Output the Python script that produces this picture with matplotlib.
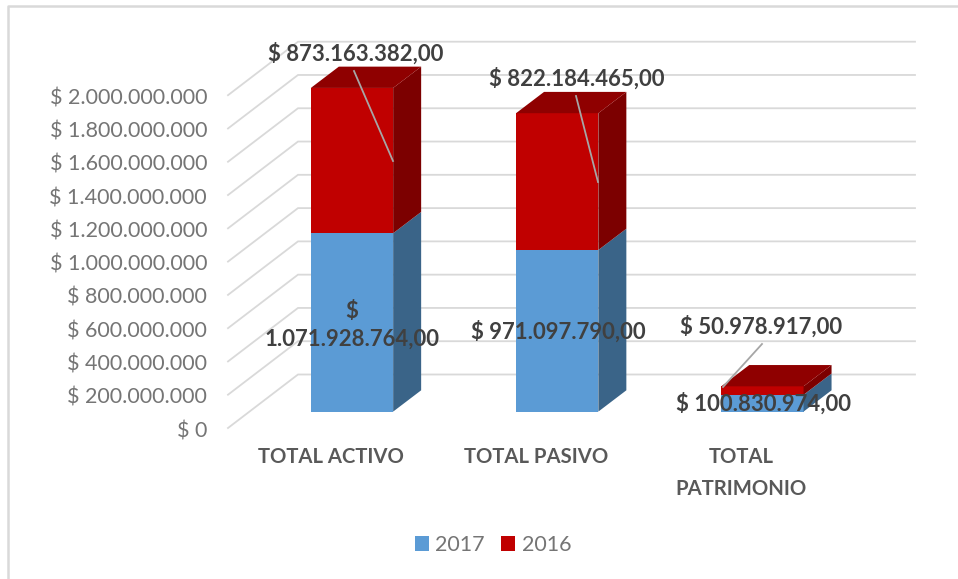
import matplotlib
matplotlib.use('Agg')
import matplotlib.pyplot as plt
from matplotlib.patches import Polygon

plt.rcParams['font.family'] = ['Lato', 'DejaVu Sans']

W, H = 958, 579

categories = ['TOTAL ACTIVO', 'TOTAL PASIVO', 'TOTAL\nPATRIMONIO']
values_2017 = [1071928764, 971097790, 100830974]
values_2016 = [873163382, 822184465, 50978917]
ticks = [0, 200000000, 400000000, 600000000, 800000000, 1000000000,
         1200000000, 1400000000, 1600000000, 1800000000, 2000000000]
label_2017 = ['$\n1.071.928.764,00', '$ 971.097.790,00', '$ 100.830.974,00']
label_2016 = ['$ 873.163.382,00', '$ 822.184.465,00', '$ 50.978.917,00']

# label layout in image pixels
pos_2017 = [(352, 325), (558, 332), (763, 404)]
pos_2016 = [(356, 54), (577, 79), (761, 327)]
leaders = [((354, 71), (393, 161)), ((576, 96), (598, 182)), ((762, 344), (723, 387))]
cat_pos = [(331, 457), (536, 457), (741, 473)]

# scale of the picture
PX_PER_VAL = 166.4 / 1e9
PX_PER_CAT = 205.2
X0, Y0 = 352.0, 411.6
BAR_W = 82.3 / PX_PER_CAT
DEPTH_X = 28.0 / PX_PER_CAT
DEPTH_Y = 21.3 / PX_PER_VAL
GRID_X0 = (228 - X0) / PX_PER_CAT
GRID_X1 = (298 - X0) / PX_PER_CAT
GRID_X2 = (915 - X0) / PX_PER_CAT
GRID_Y0 = (Y0 - 428) / PX_PER_VAL
GRID_Y1 = (Y0 - 374.5) / PX_PER_VAL

BLUE, BLUE_SIDE = '#5B9BD5', '#3A6488'
RED, RED_SIDE, RED_TOP = '#C00000', '#7C0000', '#8F0000'
GRID = '#D9D9D9'


def px(x, y):
    return x / W, 1 - y / H


fig = plt.figure(figsize=(W / 100, H / 100), dpi=100)
ax = fig.add_axes([0, 0, 1, 1])
ax.set_xlim(-X0 / PX_PER_CAT, (W - X0) / PX_PER_CAT)
ax.set_ylim((Y0 - H) / PX_PER_VAL, Y0 / PX_PER_VAL)
ax.axis('off')

# chart border, only left and top are visible in the crop
fig.add_artist(plt.Line2D([8 / W, 8 / W, 1], [0, 1 - 6 / H, 1 - 6 / H],
                          color='#D9D9D9', lw=1.8))

# walls
for i, t in enumerate(ticks):
    ax.plot([GRID_X0, GRID_X1, GRID_X2], [GRID_Y0 + t, GRID_Y1 + t, GRID_Y1 + t],
            color=GRID, lw=1.3, zorder=1, solid_joinstyle='miter')
    y = ax.transData.transform((GRID_X0, GRID_Y0 + t))[1]
    fig.text(207 / W, y / H - 3 / H, '$ ' + f'{t:,}'.replace(',', '.'), ha='right', va='center',
             fontsize=15.5, color='#757575')

xs = list(range(len(categories)))
b1 = ax.bar(xs, values_2017, BAR_W, color=BLUE, label='2017', zorder=3)
b2 = ax.bar(xs, values_2016, BAR_W, bottom=values_2017, color=RED, label='2016', zorder=3)

# side and top faces of the bars
for x, a, b in zip(xs, values_2017, values_2016):
    r = x + BAR_W / 2
    l = x - BAR_W / 2
    ax.add_patch(Polygon([(r, 0), (r + DEPTH_X, DEPTH_Y), (r + DEPTH_X, a + DEPTH_Y), (r, a)],
                         color=BLUE_SIDE, lw=0, zorder=3))
    ax.add_patch(Polygon([(r, a), (r + DEPTH_X, a + DEPTH_Y),
                          (r + DEPTH_X, a + b + DEPTH_Y), (r, a + b)],
                         color=RED_SIDE, lw=0, zorder=3))
    ax.add_patch(Polygon([(l, a + b), (l + DEPTH_X, a + b + DEPTH_Y),
                          (r + DEPTH_X, a + b + DEPTH_Y), (r, a + b)],
                         color=RED_TOP, lw=0, zorder=3))

# leader lines
for (x1, y1), (x2, y2) in leaders:
    fig.add_artist(plt.Line2D([x1 / W, x2 / W], [1 - y1 / H, 1 - y2 / H],
                              color='#A6A6A6', lw=1.3, zorder=5))

# data labels
for txt, (x, y) in zip(label_2017 + label_2016, pos_2017 + pos_2016):
    fx, fy = px(x, y)
    fig.text(fx, fy, txt, ha='center', va='center', fontsize=15.9, fontweight='bold',
             color='#404040', zorder=6, linespacing=1.4)

for txt, (x, y) in zip(categories, cat_pos):
    fx, fy = px(x, y)
    fig.text(fx, fy, txt, ha='center', va='center', fontsize=14.6, fontweight='bold',
             color='#595959', linespacing=1.75)

ax.legend(handles=[b1, b2], ncol=2, frameon=False, loc='center',
          bbox_to_anchor=px(493, 545), fontsize=15.5, labelcolor='#757575',
          handlelength=0.65, handleheight=0.75, handletextpad=0.3, columnspacing=0.75,
          borderpad=0, borderaxespad=0)

fig.savefig('out.png', dpi=100)
